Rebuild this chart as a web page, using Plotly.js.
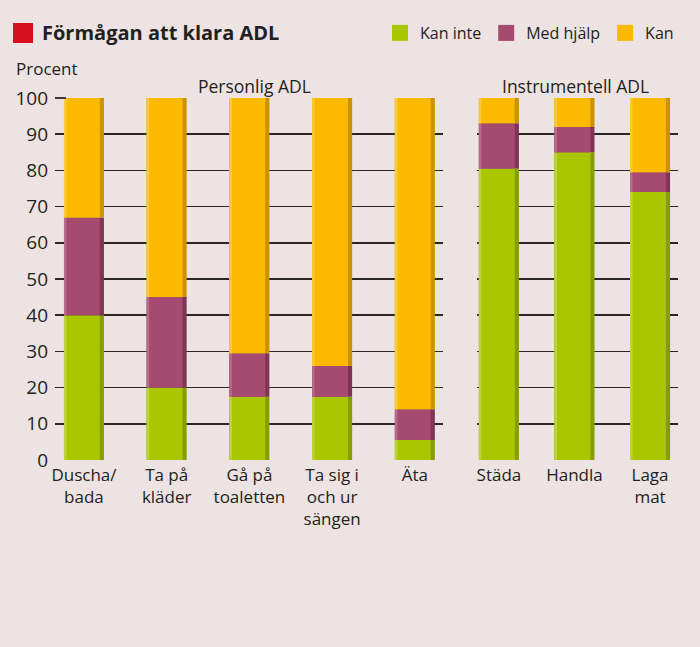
<!DOCTYPE html>
<html><head><meta charset="utf-8">
<script src="https://cdn.plot.ly/plotly-3.0.1.min.js"></script>
<style>html,body{margin:0;padding:0;background:#ece3e2;}#chart{width:700px;height:647px;}</style>
</head><body><div id="chart"></div>
<script>
// ---- data ----
const personligCats = ["Duscha/<br>bada", "Ta på<br>kläder", "Gå på<br>toaletten", "Ta sig i<br>och ur<br>sängen", "Äta"];
const instrumentellCats = ["Städa", "Handla", "Laga<br>mat"];
const seriesNames = ["Kan inte", "Med hjälp", "Kan"];
const kanIntePersonlig = [40, 20, 17.5, 17.5, 5.5];
const medHjalpPersonlig = [27, 25, 12, 8.5, 8.5];
const kanPersonlig = [33, 55, 70.5, 74, 86];
const kanInteInstrumentell = [80.5, 85, 74];
const medHjalpInstrumentell = [12.5, 7, 5.5];
const kanInstrumentell = [7, 8, 20.5];
const yTicks = [0, 10, 20, 30, 40, 50, 60, 70, 80, 90, 100];
const gridTicks = [10, 20, 30, 40, 50, 60, 70, 80, 90];

// ---- styles ----
const mainColors = ["#a9c700", "#a64a72", "#fbb900"];
const darkColors = ["#869e00", "#7f3556", "#c99400"];
const lightColors = ["#bcd43a", "#b86a8c", "#fcc93a"];
const FONT = "Open Sans, Lato, sans-serif";
const TXT = "#231f20";
const GRID = "#2a2627";
const Y_DOMAIN = [187 / 647, 1 - 98 / 647];

function groupTraces(cats, seriesVals, xa, w, d, l) {
  const traces = [];
  let base = cats.map(() => 0);
  seriesVals.forEach((vals, i) => {
    traces.push({type: "bar", x: cats, y: vals, base: base.slice(), xaxis: xa, yaxis: "y",
      width: w, offset: -w / 2, marker: {color: darkColors[i], line: {width: 0}},
      showlegend: false, hoverinfo: "skip"});
    traces.push({type: "bar", x: cats, y: vals, base: base.slice(), xaxis: xa, yaxis: "y",
      width: w - d, offset: -w / 2, marker: {color: mainColors[i], line: {width: 0}},
      showlegend: false, name: seriesNames[i]});
    traces.push({type: "bar", x: cats, y: vals, base: base.slice(), xaxis: xa, yaxis: "y",
      width: l, offset: -w / 2, marker: {color: lightColors[i], line: {width: 0}},
      showlegend: false, hoverinfo: "skip"});
    base = base.map((b, k) => b + vals[k]);
  });
  return traces;
}

const data = [
  ...groupTraces(personligCats, [kanIntePersonlig, medHjalpPersonlig, kanPersonlig], "x", 0.483, 0.05, 0.03),
  ...groupTraces(instrumentellCats, [kanInteInstrumentell, medHjalpInstrumentell, kanInstrumentell], "x2", 0.53, 0.055, 0.033),
];
// empty helper trace so the label axis gets drawn
data.push({type: "scatter", mode: "markers", x: [personligCats[0]], y: [null],
  xaxis: "x", yaxis: "y2", showlegend: false, hoverinfo: "skip"});
seriesNames.forEach((n, i) => data.push({type: "scatter", mode: "markers", x: [null], y: [null],
  xaxis: "x", yaxis: "y", name: n, marker: {symbol: "square", size: 16, color: mainColors[i]}, showlegend: true}));

const layout = {
  width: 700, height: 647,
  margin: {l: 0, r: 0, t: 0, b: 0},
  paper_bgcolor: "#ece3e2", plot_bgcolor: "rgba(0,0,0,0)",
  barmode: "overlay",
  font: {family: FONT, size: 17, color: TXT},
  showlegend: true,
  title: {text: "<b>Förmågan att klara ADL</b>", x: 42 / 700, xanchor: "left", xref: "container",
    y: 1 - 33 / 647, yanchor: "middle", yref: "container", font: {size: 20, family: FONT, color: TXT}},
  legend: {orientation: "h", x: 380 / 700, xanchor: "left", y: 1 - 33 / 647, yanchor: "middle",
    bgcolor: "rgba(0,0,0,0)", font: {size: 16}, traceorder: "normal", itemwidth: 30},
  xaxis: {domain: [55 / 700, 443 / 700], type: "category", range: [-0.35, 4.34], anchor: "y",
    showgrid: false, zeroline: false, showline: false, ticks: "", fixedrange: true,
    ticklabelstandoff: 3, tickfont: {size: 17, color: TXT}},
  xaxis2: {domain: [477 / 700, 678 / 700], type: "category", range: [-0.29, 2.37], anchor: "y",
    showgrid: false, zeroline: false, showline: false, ticks: "", fixedrange: true,
    ticklabelstandoff: 3, tickfont: {size: 17, color: TXT}},
  yaxis: {domain: Y_DOMAIN, range: [0, 100], anchor: "x",
    tickvals: gridTicks, showticklabels: false, ticks: "", showgrid: true,
    gridcolor: GRID, gridwidth: 1.6, zeroline: false, showline: false},
  yaxis2: {overlaying: "y", anchor: "x", side: "left", range: [0, 100], tickvals: yTicks,
    showgrid: false, zeroline: false, showline: false, ticks: "", ticklabelstandoff: 6,
    tickfont: {size: 19, color: TXT}},
  shapes: [
    {type: "rect", xref: "paper", yref: "paper", x0: 13 / 700, x1: 33 / 700,
      y0: 1 - 43 / 647, y1: 1 - 23 / 647, fillcolor: "#d7101f", line: {width: 0}},
    // short tick at the top of the value axis
    {type: "line", xref: "paper", yref: "paper", x0: 55 / 700, x1: 66 / 700, y0: Y_DOMAIN[1], y1: Y_DOMAIN[1],
      line: {color: GRID, width: 1.8}, layer: "above"}
  ],
  annotations: [
    {text: "Procent", xref: "paper", yref: "paper", x: 14 / 700, y: 1 - 68 / 647,
      xanchor: "left", yanchor: "middle", showarrow: false, font: {size: 17, color: TXT}},
    {text: "Personlig ADL", xref: "x domain", yref: "paper", x: 0.513, y: 1 - 86 / 647,
      xanchor: "center", yanchor: "middle", showarrow: false, font: {size: 17.5, color: TXT}},
    {text: "Instrumentell ADL", xref: "x2 domain", yref: "paper", x: 0.49, y: 1 - 86 / 647,
      xanchor: "center", yanchor: "middle", showarrow: false, font: {size: 17.5, color: TXT}}
  ]
};
Plotly.newPlot("chart", data, layout, {displayModeBar: false, staticPlot: true});
</script></body></html>
